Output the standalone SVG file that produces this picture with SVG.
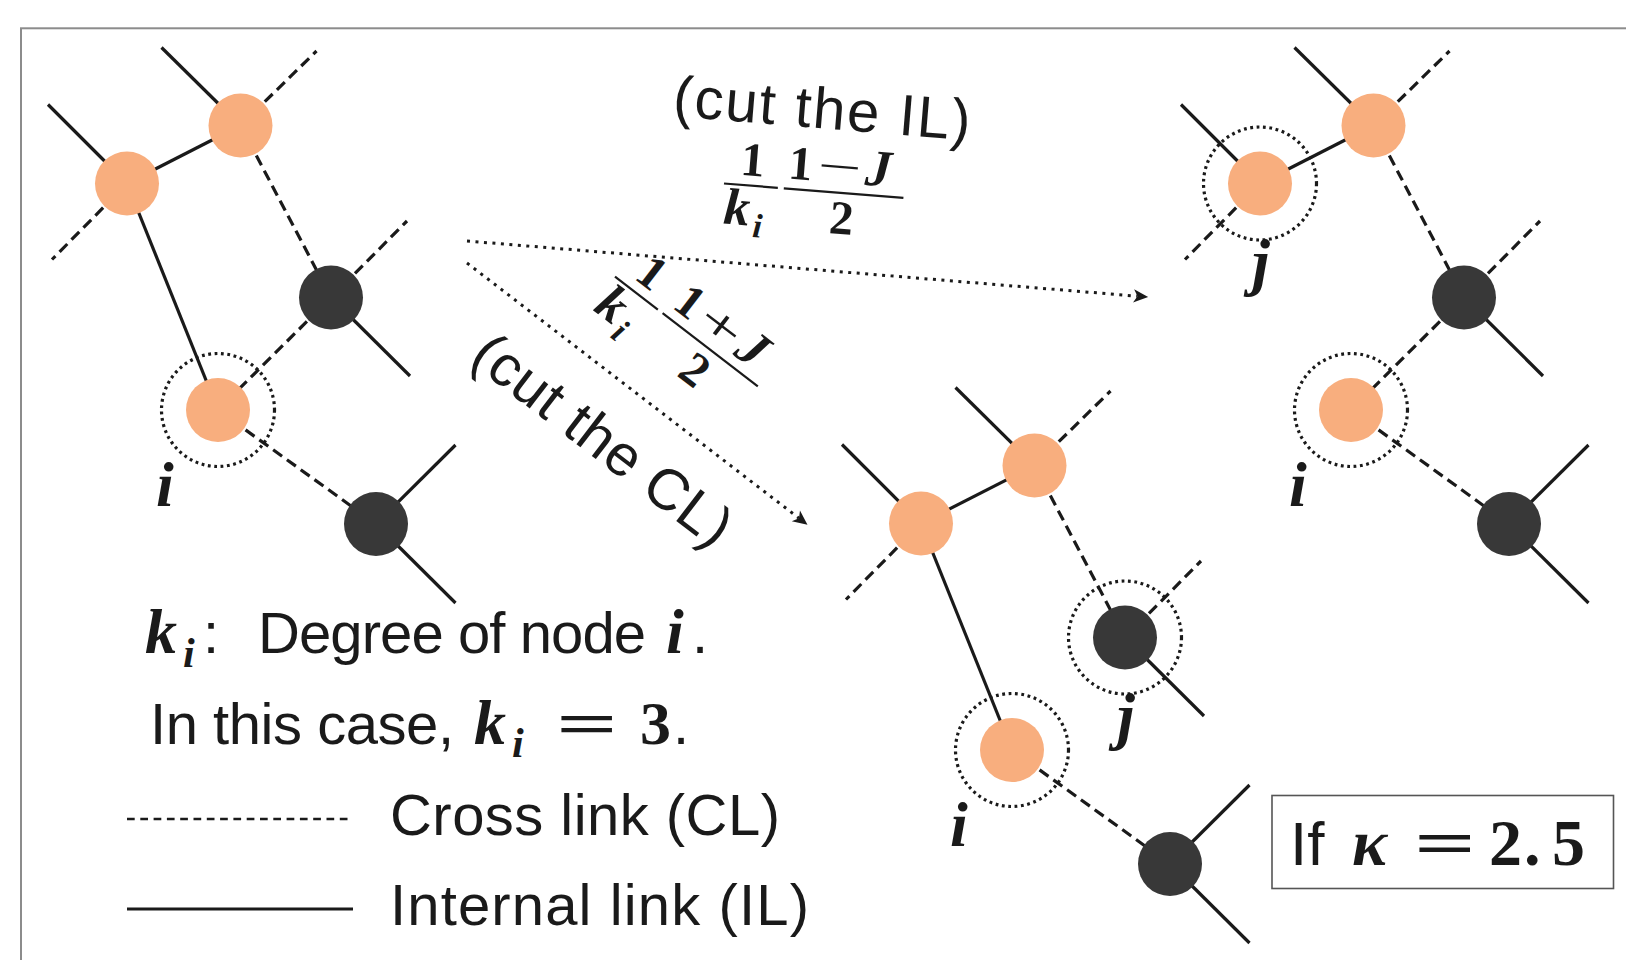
<svg xmlns="http://www.w3.org/2000/svg" width="1626" height="960" viewBox="0 0 1626 960">
<style>
.il{stroke:#1a1a1a;stroke-width:3.2;fill:none}
.cl{stroke:#1a1a1a;stroke-width:3.2;fill:none;stroke-dasharray:11 6}
.on{fill:#F8AE7E}
.dn{fill:#383838}
.sel{fill:none;stroke:#1a1a1a;stroke-width:3.2;stroke-dasharray:2.8 3.6}
.arr{stroke:#1a1a1a;stroke-width:3;fill:none;stroke-dasharray:3 5.5}
.bar{stroke:#1a1a1a;stroke-width:2.2}
.sans{font-family:"Liberation Sans",Arial,sans-serif;fill:#1a1a1a}
.mi{font-family:"Liberation Serif","Times New Roman",serif;font-weight:bold;font-style:italic;fill:#1a1a1a}
.mb{font-family:"Liberation Serif","Times New Roman",serif;font-weight:bold;fill:#1a1a1a}
.mr{font-family:"Liberation Serif","Times New Roman",serif;fill:#1a1a1a}
</style>
<defs>
<marker id="ah" markerUnits="userSpaceOnUse" markerWidth="18" markerHeight="18" viewBox="-1 -8 16 16" refX="3.5" refY="0" orient="auto">
<path d="M0,-6 L13,0 L0,6 L3.5,0 Z" fill="#1a1a1a"/>
</marker>
</defs>
<rect x="21" y="28.3" width="1700" height="1000" fill="none" stroke="#8c8c8c" stroke-width="2"/>

<g id="connectors">
<!-- left diagram -->
<line class="il" x1="127" y1="183.5" x2="48" y2="104.5"/>
<line class="il" x1="127" y1="183.5" x2="240.5" y2="125.5"/>
<line class="il" x1="127" y1="183.5" x2="218" y2="410"/>
<line class="il" x1="240.5" y1="125.5" x2="161.5" y2="47.5"/>
<line class="il" x1="331" y1="297.5" x2="410" y2="376"/>
<line class="il" x1="376" y1="524" x2="455.5" y2="445"/>
<line class="il" x1="376" y1="524" x2="455.5" y2="603"/>
<line class="cl" x1="127" y1="183.5" x2="52" y2="259.5"/>
<line class="cl" x1="240.5" y1="125.5" x2="316.5" y2="51"/>
<line class="cl" x1="240.5" y1="125.5" x2="331" y2="297.5"/>
<line class="cl" x1="331" y1="297.5" x2="407" y2="221"/>
<line class="cl" x1="331" y1="297.5" x2="218" y2="410"/>
<line class="cl" x1="218" y1="410" x2="376" y2="524"/>
<!-- right diagram (IL cut) -->
<line class="il" x1="1260" y1="183.5" x2="1181" y2="104.5"/>
<line class="il" x1="1260" y1="183.5" x2="1373.5" y2="125.5"/>
<line class="il" x1="1373.5" y1="125.5" x2="1294.5" y2="47.5"/>
<line class="il" x1="1464" y1="297.5" x2="1543" y2="376"/>
<line class="il" x1="1509" y1="524" x2="1588.5" y2="445"/>
<line class="il" x1="1509" y1="524" x2="1588.5" y2="603"/>
<line class="cl" x1="1260" y1="183.5" x2="1185" y2="259.5"/>
<line class="cl" x1="1373.5" y1="125.5" x2="1449.5" y2="51"/>
<line class="cl" x1="1373.5" y1="125.5" x2="1464" y2="297.5"/>
<line class="cl" x1="1464" y1="297.5" x2="1540" y2="221"/>
<line class="cl" x1="1464" y1="297.5" x2="1351" y2="410"/>
<line class="cl" x1="1351" y1="410" x2="1509" y2="524"/>
<!-- middle diagram (CL cut) -->
<line class="il" x1="921" y1="523.5" x2="842" y2="444.5"/>
<line class="il" x1="921" y1="523.5" x2="1034.5" y2="465.5"/>
<line class="il" x1="921" y1="523.5" x2="1012" y2="750"/>
<line class="il" x1="1034.5" y1="465.5" x2="955.5" y2="387.5"/>
<line class="il" x1="1125" y1="637.5" x2="1204" y2="716"/>
<line class="il" x1="1170" y1="864" x2="1249.5" y2="785"/>
<line class="il" x1="1170" y1="864" x2="1249.5" y2="943"/>
<line class="cl" x1="921" y1="523.5" x2="846" y2="599.5"/>
<line class="cl" x1="1034.5" y1="465.5" x2="1110.5" y2="391"/>
<line class="cl" x1="1034.5" y1="465.5" x2="1125" y2="637.5"/>
<line class="cl" x1="1125" y1="637.5" x2="1201" y2="561"/>
<line class="cl" x1="1012" y1="750" x2="1170" y2="864"/>
<!-- transition arrows -->
<line class="arr" x1="467" y1="241" x2="1137.5" y2="296.2" marker-end="url(#ah)"/>
<line class="arr" x1="467" y1="263" x2="799" y2="518.2" marker-end="url(#ah)"/>
</g>

<g id="L-A"><circle class="on" cx="127" cy="183.5" r="32"/></g>
<g id="L-B"><circle class="on" cx="240.5" cy="125.5" r="32"/></g>
<g id="L-C"><circle class="dn" cx="331" cy="297.5" r="32"/></g>
<g id="L-i"><circle class="on" cx="218" cy="410" r="32"/><circle class="sel" cx="218" cy="410" r="56.5"/>
<text class="mi" x="165" y="506" font-size="64" text-anchor="middle">i</text></g>
<g id="L-D"><circle class="dn" cx="376" cy="524" r="32"/></g>

<g id="R-j"><circle class="on" cx="1260" cy="183.5" r="32"/><circle class="sel" cx="1260" cy="183.5" r="56.5"/>
<text class="mi" x="1252" y="283" font-size="64">j</text></g>
<g id="R-B"><circle class="on" cx="1373.5" cy="125.5" r="32"/></g>
<g id="R-C"><circle class="dn" cx="1464" cy="297.5" r="32"/></g>
<g id="R-i"><circle class="on" cx="1351" cy="410" r="32"/><circle class="sel" cx="1351" cy="410" r="56.5"/>
<text class="mi" x="1298" y="506" font-size="64" text-anchor="middle">i</text></g>
<g id="R-D"><circle class="dn" cx="1509" cy="524" r="32"/></g>

<g id="M-A"><circle class="on" cx="921" cy="523.5" r="32"/></g>
<g id="M-B"><circle class="on" cx="1034.5" cy="465.5" r="32"/></g>
<g id="M-j"><circle class="dn" cx="1125" cy="637.5" r="32"/><circle class="sel" cx="1125" cy="637.5" r="56.5"/>
<text class="mi" x="1117" y="737" font-size="64">j</text></g>
<g id="M-i"><circle class="on" cx="1012" cy="750" r="32"/><circle class="sel" cx="1012" cy="750" r="56.5"/>
<text class="mi" x="959" y="846" font-size="64" text-anchor="middle">i</text></g>
<g id="M-D"><circle class="dn" cx="1170" cy="864" r="32"/></g>

<g id="label-IL">
<text class="sans" transform="translate(672,116) rotate(4.7)" font-size="58" textLength="298">(cut the IL)</text>
<g transform="translate(724,183.5) rotate(4.6)">
<line class="bar" x1="0" y1="0" x2="54" y2="0"/>
<text class="mb" x="27" y="-10" font-size="48" text-anchor="middle">1</text>
<text class="mi" x="2" y="40" font-size="52">k</text>
<text class="mi" x="32" y="51" font-size="34">i</text>
<line class="bar" x1="60" y1="0" x2="180" y2="0"/>
<text class="mb" x="63" y="-10" font-size="48">1</text>
<text class="mr" x="92" y="-10" font-size="48" textLength="44" lengthAdjust="spacingAndGlyphs">−</text>
<text class="mi" x="140" y="-10" font-size="52">J</text>
<text class="mb" x="120" y="41" font-size="48" text-anchor="middle">2</text>
</g>
</g>

<g id="label-CL">
<text class="sans" transform="translate(468,361) rotate(37.5)" font-size="58" textLength="310">(cut the CL)</text>
<g transform="translate(615,276.7) rotate(37.5)">
<line class="bar" x1="0" y1="0" x2="54" y2="0"/>
<text class="mb" x="27" y="-10" font-size="48" text-anchor="middle">1</text>
<text class="mi" x="2" y="40" font-size="52">k</text>
<text class="mi" x="32" y="51" font-size="34">i</text>
<line class="bar" x1="60" y1="0" x2="180" y2="0"/>
<text class="mb" x="63" y="-10" font-size="48">1</text>
<text class="mr" x="92" y="-10" font-size="48" textLength="44" lengthAdjust="spacingAndGlyphs">+</text>
<text class="mi" x="140" y="-10" font-size="52">J</text>
<text class="mb" x="120" y="41" font-size="48" text-anchor="middle">2</text>
</g>
</g>

<g id="legend">
<text class="mi" x="145" y="653" font-size="64">k</text>
<text class="mi" x="183" y="667" font-size="42">i</text>
<text class="sans" x="203" y="653" font-size="58">:</text>
<text class="sans" x="258" y="653" font-size="58" textLength="388">Degree of node</text>
<text class="mi" x="666" y="653" font-size="64">i</text>
<text class="sans" x="692" y="653" font-size="58">.</text>
<text class="sans" x="150" y="744" font-size="58" textLength="304">In this case,</text>
<text class="mi" x="474" y="744" font-size="64">k</text>
<text class="mi" x="512" y="757" font-size="42">i</text>
<text class="mb" x="556" y="744" font-size="62" textLength="62" lengthAdjust="spacingAndGlyphs">=</text>
<text class="mb" x="640" y="744" font-size="62">3</text>
<text class="sans" x="673" y="744" font-size="58">.</text>
<line x1="127" y1="819" x2="353" y2="819" stroke="#1a1a1a" stroke-width="2.7" stroke-dasharray="7.7 5.6"/>
<text class="sans" x="390" y="835" font-size="58" textLength="390">Cross link (CL)</text>
<line x1="127" y1="909" x2="353" y2="909" stroke="#1a1a1a" stroke-width="3"/>
<text class="sans" x="390" y="925" font-size="58" textLength="419">Internal link (IL)</text>
</g>

<g id="kappa-box">
<rect x="1272" y="795.5" width="341.5" height="93" fill="none" stroke="#555" stroke-width="1.6"/>
<text class="sans" x="1290" y="865" font-size="62">If</text>
<text class="mi" x="1352" y="865" font-size="66">κ</text>
<text class="mb" x="1414" y="865" font-size="64" textLength="62" lengthAdjust="spacingAndGlyphs">=</text>
<text class="mb" x="1489" y="865" font-size="66">2</text>
<text class="mb" x="1524" y="865" font-size="66">.</text>
<text class="mb" x="1552" y="865" font-size="66">5</text>
</g>
</svg>
